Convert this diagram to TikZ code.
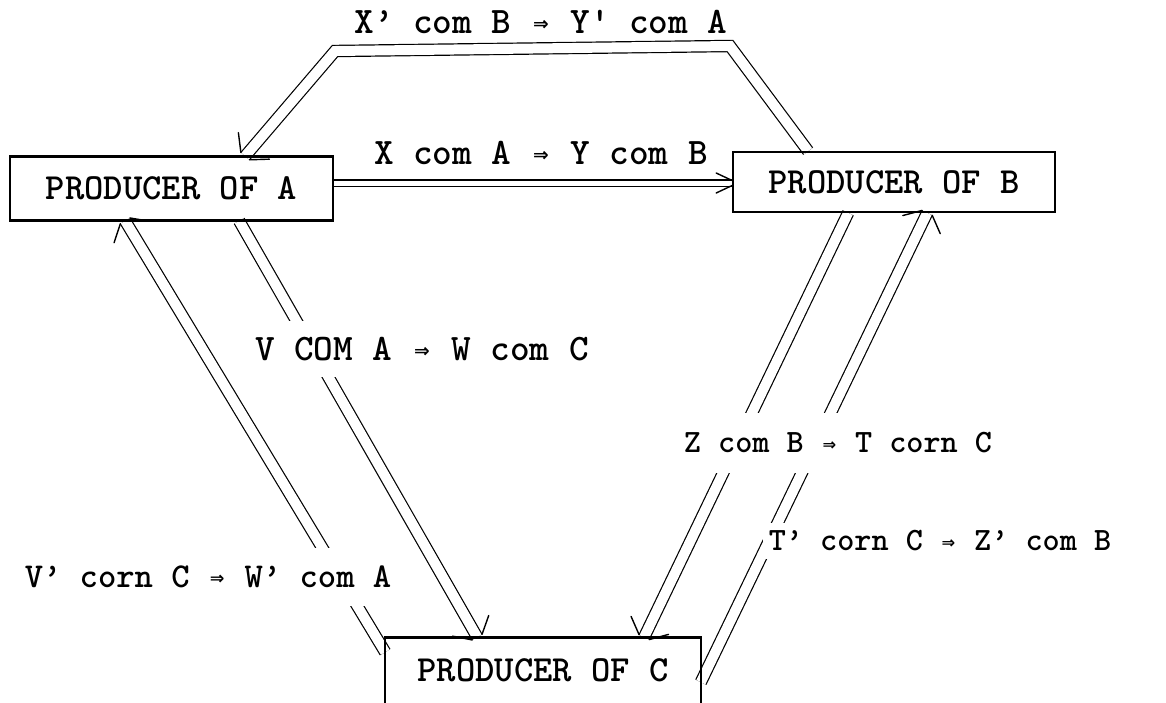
\documentclass[tikz,border=0pt]{standalone}
\usepackage{fontspec}
\usepackage{graphicx}
\newfontfamily\symf{DejaVu Sans}
\usetikzlibrary{calc,backgrounds}
\newcommand\imp{\makebox[0.525em]{\raisebox{0.08em}{\scalebox{0.5}{\symf\bfseries ⇒}}}}
\newcommand\arrowhead[2]{%
  \path ($(#2)!5.6pt!90:(#1)$) coordinate (hl) ($(#2)!5.6pt!-90:(#1)$) coordinate (hr);
  \draw[barb] ($(hl)!20pt!50:(#1)$) -- (hl);
  \draw[barb] ($(hr)!20pt!-50:(#1)$) -- (hr);
}
\begin{document}
\begin{tikzpicture}[x=1pt,y=-1pt,
  box/.style={draw, line width=1.7pt, inner sep=0pt, font=\ttfamily\bfseries\fontsize{36.8}{40}\selectfont},
  lab/.style={fill=white, inner xsep=6pt, inner ysep=4pt, font=\ttfamily\bfseries\fontsize{37.4}{40}\selectfont},
  labs/.style={lab, font=\ttfamily\bfseries\fontsize{32.6}{36}\selectfont},
  dbl/.style={double, double distance=10pt, line width=1.2pt},
  dbln/.style={double, double distance=5pt, line width=1.2pt},
  barb/.style={line width=1.4pt, line cap=round},
  boxline/.style={line width=1.7pt},
  heavy/.style={line width=3.2pt}]
\useasboundingbox (0,0) rectangle (1166,702);

% producers
\node[box, minimum width=323pt, minimum height=63pt] (A) at (171.5,188.5) {PRODUCER OF A};
\node[box, minimum width=322pt, minimum height=60pt] (B) at (894,182) {PRODUCER OF B};
\node[box, draw=none, minimum width=314pt, minimum height=64pt] (C) at (543,670) {PRODUCER OF C};
\draw[boxline] (C.south west) -- (C.north west) -- (C.north east) -- (C.south east);
\draw[heavy] (A.north west) -- (A.north east);
\draw[heavy] (A.south west) -- (A.south east);
\draw[heavy] (C.north west) -- (C.north east);

% connector end points
\coordinate (aT) at ([xshift=236pt]A.north west);
\coordinate (bT) at ([xshift=76pt]B.north west);
\coordinate (k1) at (730,46);
\coordinate (k2) at (335,51);
\coordinate (aR) at ([yshift=5.5pt]A.east);
\coordinate (bL) at (aR -| B.west);
\coordinate (aB1) at ([xshift=230pt]A.south west);
\coordinate (cT1) at ([xshift=92pt]C.north west);
\coordinate (cL) at ([yshift=-15pt]C.north west);
\coordinate (aB2) at ([xshift=116pt]A.south west);
\coordinate (bB1) at ([xshift=116pt]B.south west);
\coordinate (cT2) at ([xshift=259pt]C.north west);
\coordinate (cR) at ([yshift=-45pt]C.north east);
\coordinate (bB2) at ([xshift=195pt]B.south west);

\begin{scope}[on background layer]
  % X' com B => Y' com A  (B -> A, over the top)
  \draw[dbl] (bT) -- (k1) -- (k2) -- (aT);
  \arrowhead{k2}{aT}
  % X com A => Y com B
  \draw[dbln] (aR) -- (bL);
  \draw[barb] ([xshift=-16pt,yshift=10pt]bL) -- ([yshift=2.5pt]bL);
  \draw[barb] ([xshift=-16pt,yshift=-10pt]bL) -- ([yshift=-2.5pt]bL);
  % V COM A => W com C
  \draw[dbl] (aB1) -- (cT1);
  \arrowhead{aB1}{cT1}
  % V' corn C => W' com A
  \draw[dbl] (cL) -- (aB2);
  \arrowhead{cL}{aB2}
  % Z com B => T corn C
  \draw[dbl] (bB1) -- (cT2);
  \arrowhead{bB1}{cT2}
  % T' corn C => Z' com B
  \draw[dbl] (cR) -- (bB2);
  \arrowhead{cR}{bB2}
\end{scope}

% labels
\node[lab] (L1) at (541,22) {X’ com B \imp{} Y' com A};
\node[lab] (L2) at (541,153) {X com A \imp{} Y com B};
\node[lab, inner ysep=16pt] (L3) at (422,349) {V COM A \imp{} W com C};
\node[labs, inner ysep=20pt] (L4) at (838,443) {Z com B \imp{} T corn C};
\node[labs, inner ysep=8pt] (L5) at (940,541) {T’ corn C \imp{} Z’ com B};
\node[lab, font=\ttfamily\bfseries\fontsize{34.9}{38}\selectfont, inner ysep=18pt] (L6) at (208,577) {V’ corn C \imp{} W’ com A};
\end{tikzpicture}
\end{document}
